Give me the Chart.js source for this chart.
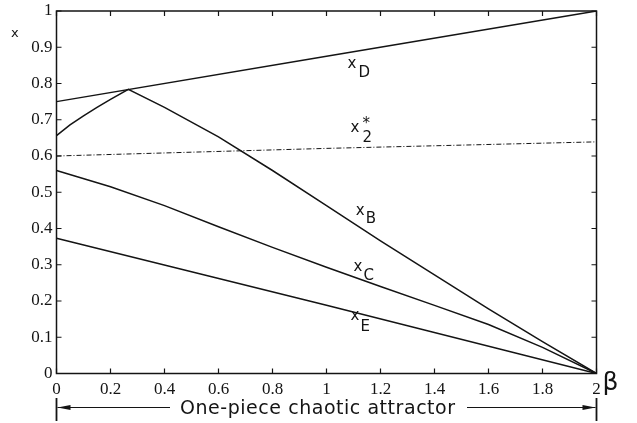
<!DOCTYPE html>
<html>
<head>
<meta charset="utf-8">
<script src="https://cdn.jsdelivr.net/npm/chart.js@4.4.1/dist/chart.umd.min.js"></script>
<style>
  html, body { margin: 0; padding: 0; background: #fff; }
  #wrap { width: 637px; height: 423px; }
</style>
</head>
<body>
<div id="wrap"><canvas id="c"></canvas></div>
<script>
// curves (beta on the x axis, x on the y axis)
const betaB = [0, 0.05, 0.1, 0.15, 0.2, 0.266, 0.4, 0.6, 0.8, 1.0, 1.2, 1.4, 1.6, 1.8, 2.0]
const xB = [0.656, 0.686, 0.711, 0.734, 0.756, 0.784, 0.734, 0.653, 0.56, 0.463, 0.366, 0.272, 0.178, 0.088, 0]
const betaC = [0, 0.2, 0.4, 0.6, 0.8, 1.0, 1.2, 1.4, 1.6, 1.8, 2.0]
const xC = [0.56, 0.515, 0.463, 0.405, 0.348, 0.293, 0.24, 0.188, 0.135, 0.072, 0]
const betaD = [0, 1, 2]
const xD = [0.75, 0.875, 1.0]
const betaE = [0, 1, 2]
const xE = [0.373, 0.188, 0]
const betaStar = [0, 1, 2]
const xStar = [0.6, 0.621, 0.639]

const xTickValues = [0, 0.2, 0.4, 0.6, 0.8, 1, 1.2, 1.4, 1.6, 1.8, 2]
const yTickValues = [0, 0.1, 0.2, 0.3, 0.4, 0.5, 0.6, 0.7, 0.8, 0.9, 1]

const ink = "#141414"
const letterFont = "DejaVu Sans"

const toPoints = (xs, ys) => xs.map((b, i) => ({ x: b, y: ys[i] }))

function curve(xs, ys, dash) {
  return {
    data: toPoints(xs, ys),
    showLine: true,
    borderColor: ink,
    borderWidth: dash ? 1 : 1.5,
    borderDash: dash || [],
    pointRadius: 0,
    tension: 0,
  }
}

// label text and where it sits (beta, x) + subscript offset in px
const curveLabels = [
  { sub: "D", beta: 1.078, val: 0.843, dx: 11, dy: 9 },
  { sub: "2", sup: "*", beta: 1.089, val: 0.667, dx: 12, dy: 10 },
  { sub: "B", beta: 1.108, val: 0.4365, dx: 10, dy: 8 },
  { sub: "C", beta: 1.1, val: 0.2826, dx: 10, dy: 9 },
  { sub: "E", beta: 1.089, val: 0.1464, dx: 10, dy: 11 },
]

const fmt = (v) => String(Number(v.toFixed(1)))

function arrowHead(ctx, tipX, y, dir) {
  ctx.beginPath()
  ctx.moveTo(tipX, y)
  ctx.lineTo(tipX + dir * 13, y - 2.5)
  ctx.lineTo(tipX + dir * 13, y + 2.5)
  ctx.closePath()
  ctx.fill()
}

const decorations = {
  id: "decorations",
  afterDraw(chart) {
    const { ctx, chartArea: a, scales: { x, y } } = chart
    ctx.save()
    ctx.strokeStyle = ink
    ctx.fillStyle = ink

    // box + inward ticks on all four sides
    ctx.lineWidth = 1.5
    ctx.strokeRect(a.left, a.top, a.right - a.left, a.bottom - a.top)
    ctx.lineWidth = 1.2
    ctx.beginPath()
    xTickValues.forEach((v) => {
      const px = x.getPixelForValue(v)
      ctx.moveTo(px, a.bottom)
      ctx.lineTo(px, a.bottom - 5)
      ctx.moveTo(px, a.top)
      ctx.lineTo(px, a.top + 5)
    })
    yTickValues.forEach((v) => {
      const py = y.getPixelForValue(v)
      ctx.moveTo(a.left, py)
      ctx.lineTo(a.left + 5, py)
      ctx.moveTo(a.right, py)
      ctx.lineTo(a.right - 5, py)
    })
    ctx.stroke()

    // curve labels
    ctx.textBaseline = "alphabetic"
    ctx.textAlign = "left"
    curveLabels.forEach((l) => {
      const px = x.getPixelForValue(l.beta)
      const py = y.getPixelForValue(l.val)
      ctx.font = `15px "${letterFont}"`
      ctx.fillText("x", px, py)
      ctx.font = `15px "${letterFont}"`
      ctx.fillText(l.sub, px + l.dx, py + l.dy)
      if (l.sup) ctx.fillText(l.sup, px + l.dx, py - 4)
    })

    // axis names
    ctx.font = `13px "${letterFont}"`
    ctx.fillText("x", 11, 37)
    ctx.font = `25px "${letterFont}"`
    ctx.fillText("β", a.right + 6, 390)

    // one-piece chaotic attractor range
    const x0 = x.getPixelForValue(0)
    const x2 = x.getPixelForValue(2)
    const ay = 407.5
    ctx.lineWidth = 1.8
    ctx.beginPath()
    ctx.moveTo(x0, 398)
    ctx.lineTo(x0, 421)
    ctx.moveTo(x2, 398)
    ctx.lineTo(x2, 421)
    ctx.stroke()

    const text = "One-piece chaotic attractor"
    ctx.font = `19px "${letterFont}"`
    const w = ctx.measureText(text).width
    const target = 275
    ctx.letterSpacing = ((target - w) / (text.length - 1)).toFixed(2) + "px"
    const tx = 180
    ctx.fillText(text, tx, 414)
    ctx.letterSpacing = "0px"

    ctx.lineWidth = 1.2
    ctx.beginPath()
    ctx.moveTo(x0 + 1, ay)
    ctx.lineTo(tx - 10, ay)
    ctx.moveTo(tx + target + 12, ay)
    ctx.lineTo(x2 - 1, ay)
    ctx.stroke()
    arrowHead(ctx, x0 + 1, ay, 1)
    arrowHead(ctx, x2 - 1, ay, -1)

    ctx.restore()
  },
}

new Chart(document.getElementById("c"), {
  type: "scatter",
  data: {
    datasets: [
      curve(betaD, xD),
      curve(betaB, xB),
      curve(betaC, xC),
      curve(betaE, xE),
      curve(betaStar, xStar, [5, 2, 1, 2]),
    ],
  },
  options: {
    responsive: true,
    maintainAspectRatio: false,
    animation: false,
    layout: { padding: { left: 30.5, right: 40.5, top: 11, bottom: 23.5 } },
    plugins: { legend: { display: false }, tooltip: { enabled: false } },
    scales: {
      x: {
        type: "linear",
        min: 0,
        max: 2,
        afterBuildTicks: (axis) => { axis.ticks = xTickValues.map((v) => ({ value: v })) },
        afterFit: (s) => { s.height = 26; s.paddingLeft = 0; s.paddingRight = 0 },
        grid: { display: false, drawTicks: false },
        border: { display: false },
        ticks: {
          color: ink,
          padding: 6,
          maxRotation: 0,
          autoSkip: false,
          font: { family: "Liberation Serif", size: 17 },
          callback: fmt,
        },
      },
      y: {
        min: 0,
        max: 1,
        afterBuildTicks: (axis) => { axis.ticks = yTickValues.map((v) => ({ value: v })) },
        afterFit: (s) => { s.width = 26; s.paddingTop = 0; s.paddingBottom = 0 },
        grid: { display: false, drawTicks: false },
        border: { display: false },
        ticks: {
          color: ink,
          padding: 4,
          autoSkip: false,
          font: { family: "Liberation Serif", size: 17 },
          callback: fmt,
        },
      },
    },
  },
  plugins: [decorations],
})
</script>
</body>
</html>
